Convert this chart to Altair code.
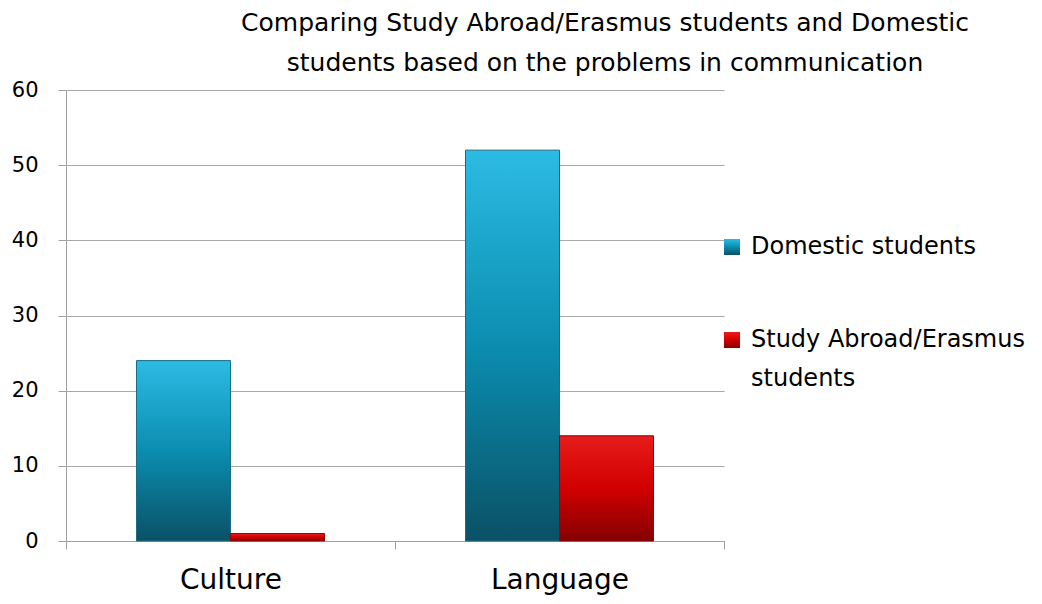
import altair as alt
import pandas as pd

categories = ["Culture", "Language"]
series = ["Domestic students", "Study Abroad/Erasmus students"]
domestic = [24, 52]
abroad = [1, 14]

rows = []
for i, c in enumerate(categories):
    rows.append({"problem": c, "group": series[0], "value": domestic[i]})
    rows.append({"problem": c, "group": series[1], "value": abroad[i]})
df = pd.DataFrame(rows)

blue_grad = ("{gradient: 'linear', x1: 0, y1: 0, x2: 0, y2: 1, stops: ["
             "{offset: 0, color: '#2cbbe4'}, {offset: 0.5, color: '#0b8db0'}, {offset: 1, color: '#0a5166'}]}")
red_grad = ("{gradient: 'linear', x1: 0, y1: 0, x2: 0, y2: 1, stops: ["
            "{offset: 0, color: '#e81c1c'}, {offset: 0.5, color: '#d10000'}, {offset: 1, color: '#850000'}]}")

FONT = "DejaVu Sans"

legend = alt.Legend(title=None, orient="none", legendX=654, legendY=145,
                    symbolType="square", symbolSize=256, symbolStrokeWidth=0,
                    labelFontSize=24, labelFont=FONT, labelColor="black",
                    rowPadding=69, labelOffset=7,
                    labelExpr="datum.label == 'Study Abroad/Erasmus students' ? ['Study Abroad/Erasmus', 'students'] : datum.label",
                    labelLimit=400)

bars = alt.Chart(df).mark_bar(strokeWidth=1).encode(
    x=alt.X("problem:N", sort=categories, title=None,
            scale=alt.Scale(paddingInner=0, paddingOuter=0),
            axis=alt.Axis(labelAngle=0, tickBand="extent", labelFontSize=28, labelFont=FONT,
                          labelColor="black", labelPadding=17, tickSize=8, tickColor="#a0a0a0",
                          domainColor="#a0a0a0", grid=False)),
    xOffset=alt.XOffset("group:N", sort=series,
                        scale=alt.Scale(paddingInner=0, paddingOuter=0.75)),
    y=alt.Y("value:Q", title=None,
            scale=alt.Scale(domain=[0, 60]),
            axis=alt.Axis(values=[0, 10, 20, 30, 40, 50, 60], labelFontSize=21, labelFont=FONT,
                          labelColor="black", labelPadding=20, tickSize=8, tickColor="#a0a0a0",
                          domainColor="#a0a0a0", gridColor="#a8a8a8")),
    fill=alt.Fill("group:N", sort=series,
                  scale=alt.Scale(domain=series, range=[{"expr": blue_grad}, {"expr": red_grad}]),
                  legend=legend),
    stroke=alt.Stroke("group:N", sort=series,
                      scale=alt.Scale(domain=series, range=["#1b6c84", "#8c0a0a"]),
                      legend=None),
)

chart = bars.properties(
    width=658, height=451,
    autosize=alt.AutoSizeParams(type="none"),
    padding={"left": 58, "top": 82, "right": 308, "bottom": 55},
    title=alt.TitleParams(
        text=["Comparing Study Abroad/Erasmus students and Domestic",
              "students based on the problems in communication"],
        fontSize=25, font=FONT, fontWeight="normal", color="black",
        anchor="middle", dx=210, offset=3, lineHeight=40),
).configure(style={"guide-label": {"lineHeight": 39}}, view=alt.ViewConfig(stroke=None))

chart.save("out.html", embed_options={"renderer": "svg", "actions": False})
